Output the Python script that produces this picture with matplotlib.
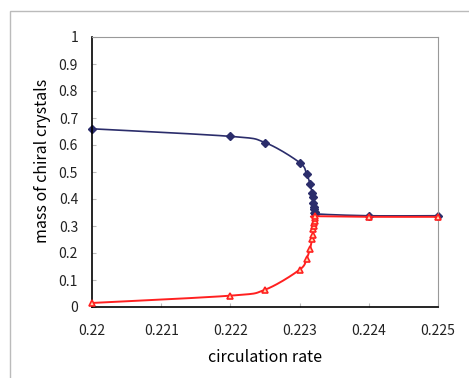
import matplotlib
matplotlib.use("Agg")
import matplotlib.pyplot as plt
from matplotlib.patches import Rectangle
import numpy as np

plt.rcParams['font.family'] = ['Noto Sans CJK JP', 'DejaVu Sans']

blue_x = [0.2200, 0.2220, 0.2225, 0.2230, 0.22310, 0.22315, 0.22318, 0.22319,
          0.22320, 0.22321, 0.22321, 0.22322, 0.22322, 0.2240, 0.2250]
blue_y = [0.660, 0.632, 0.609, 0.535, 0.493, 0.457, 0.423, 0.408,
          0.385, 0.372, 0.362, 0.352, 0.345, 0.338, 0.338]

red_x = [0.2200, 0.2220, 0.2225, 0.2230, 0.22310, 0.22315, 0.22318, 0.22319,
         0.22320, 0.22321, 0.22321, 0.22322, 0.22322, 0.22322, 0.2240, 0.2250]
red_y = [0.015, 0.042, 0.064, 0.138, 0.179, 0.215, 0.251, 0.265,
         0.290, 0.300, 0.310, 0.320, 0.330, 0.336, 0.334, 0.334]

x_ticks = [0.220, 0.221, 0.222, 0.223, 0.224, 0.225]
x_labels = ['0.22', '0.221', '0.222', '0.223', '0.224', '0.225']
y_ticks = [0, 0.1, 0.2, 0.3, 0.4, 0.5, 0.6, 0.7, 0.8, 0.9, 1]
y_labels = ['0', '0.1', '0.2', '0.3', '0.4', '0.5', '0.6', '0.7', '0.8', '0.9', '1']


def smooth(xs, ys, ax, n=20):
    # Catmull-Rom spline in display space (Excel-like smoothed line)
    pts = ax.transData.transform(np.column_stack([xs, ys]))
    P = np.vstack([pts[0], pts, pts[-1]])
    out = []
    t = np.linspace(0, 1, n)[:, None]
    for i in range(1, len(P) - 2):
        p0, p1, p2, p3 = P[i - 1], P[i], P[i + 1], P[i + 2]
        seg = 0.5 * ((2 * p1) + (-p0 + p2) * t + (2 * p0 - 5 * p1 + 4 * p2 - p3) * t ** 2
                     + (-p0 + 3 * p1 - 3 * p2 + p3) * t ** 3)
        out.append(seg)
    out = np.vstack(out)
    d = ax.transData.inverted().transform(out)
    return d[:, 0], d[:, 1]


fig = plt.figure(figsize=(4.69, 3.78), dpi=100)
fig.patches.append(Rectangle((10/469, -0.1), 1.2, 1 - 11/378 + 0.1,
                             transform=fig.transFigure, fill=False,
                             edgecolor='#BBBBBB', linewidth=1.0))
ax = fig.add_axes([92/469, 71/378, 346/469, 270/378])
ax.set_xlim(0.22, 0.225)
ax.set_ylim(0, 1)

bx, by = smooth(blue_x, blue_y, ax)
rx, ry = smooth(red_x, red_y, ax)
ax.plot(bx, by, color='#2B2D6B', linewidth=1.2, zorder=2, clip_on=False)
ax.plot(blue_x, blue_y, linestyle='none', marker='D',
        markersize=4, markerfacecolor='#2B2D6B', markeredgecolor='#2B2D6B',
        zorder=2, clip_on=False)
ax.plot(rx, ry, color='#FF2020', linewidth=1.4, zorder=3, clip_on=False)
ax.plot(red_x, red_y, linestyle='none', marker='^',
        markersize=5, markerfacecolor='#FFD8B0', markeredgecolor='#FF2020',
        markeredgewidth=1.2, zorder=3, clip_on=False)

ax.set_xticks(x_ticks)
ax.set_xticklabels(x_labels)
ax.set_yticks(y_ticks)
ax.set_yticklabels(y_labels)
ax.tick_params(axis='both', direction='in', length=3, color='#BBBBBB',
               labelsize=10, colors='#222222')
ax.tick_params(axis='x', pad=12)
ax.tick_params(axis='y', pad=10)
for s in ['top', 'right']:
    ax.spines[s].set_color('#999999')
for s in ['left', 'bottom']:
    ax.spines[s].set_color('#000000')
    ax.spines[s].set_linewidth(1.2)

ax.set_xlabel('circulation rate', fontsize=11.5, labelpad=8)
ax.set_ylabel('mass of chiral crystals', fontsize=11.5)
ax.yaxis.set_label_coords(-0.118, 0.54)

fig.savefig('out.png', dpi=100)
